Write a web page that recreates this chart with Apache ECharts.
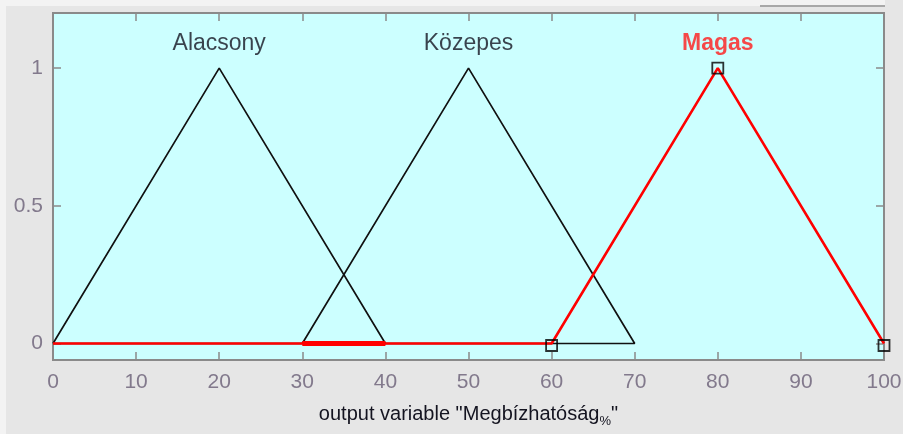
<!DOCTYPE html>
<html>
<head>
<meta charset="utf-8">
<script src="https://cdn.jsdelivr.net/npm/echarts@6/dist/echarts.min.js"></script>
<style>
  html, body { margin: 0; padding: 0; background: #f3f3f3; }
  #chart { width: 903px; height: 434px; }
</style>
</head>
<body>
<div id="chart"></div>
<script>
// Membership functions of the output variable (triangular, drawn as closed outlines)
const mfNames = ['Alacsony', 'Közepes', 'Magas'];
const alacsonyPts = [[0, 0], [20, 1], [40, 0], [0, 0]];
const kozepesPts = [[30, 0], [50, 1], [70, 0], [30, 0]];
const magasPts = [[0, 0], [60, 0], [80, 1], [100, 0]];
const magasOverlap = [[30, 0], [40, 0]];
const magasHandles = [[60, 0], [80, 1], [100, 0]];
const mfPeaks = [20, 50, 80];
const xTicks = [0, 10, 20, 30, 40, 50, 60, 70, 80, 90, 100];
const yTicks = [0, 0.5, 1];

const chart = echarts.init(document.getElementById('chart'), null, { renderer: 'canvas' });

const tickColor = '#82798c';
const frameColor = '#8a8a8a';
const textColor = '#141420';
const font = '"Liberation Sans", Arial, sans-serif';

const baseX = {
  type: 'value', min: 0, max: 100, interval: 10,
  axisLine: { show: true, onZero: false, lineStyle: { color: frameColor, width: 2 } },
  axisTick: { show: true, inside: true, length: 8, lineStyle: { color: frameColor, width: 1.5 } },
  splitLine: { show: false }
};
const baseY = {
  type: 'value', min: -0.06, max: 1.2,
  axisLine: { show: true, onZero: false, lineStyle: { color: frameColor, width: 2 } },
  axisTick: { show: true, inside: true, length: 8, lineStyle: { color: frameColor, width: 1.5 },
    customValues: yTicks },
  splitLine: { show: false }
};

chart.setOption({
  animation: false,
  backgroundColor: 'transparent',
  graphic: [
    { type: 'rect', shape: { x: 6, y: 6, width: 897, height: 428 }, style: { fill: '#e6e6e6' }, z: -10 },
    { type: 'rect', shape: { x: 885, y: 0, width: 18, height: 6 }, style: { fill: '#e6e6e6' }, z: -10 },
    { type: 'rect', shape: { x: 760, y: 5, width: 125, height: 2 }, style: { fill: '#a8a8a8' }, z: -10 }
  ],
  grid: {
    left: 53, right: 19, top: 13, bottom: 74,
    outerBoundsMode: 'none',
    containLabel: false,
    show: true, backgroundColor: '#ccffff', borderColor: frameColor, borderWidth: 2
  },
  xAxis: [
    Object.assign({}, baseX, {
      position: 'bottom',
      axisLabel: { show: true, color: tickColor, fontSize: 21, fontFamily: font, margin: 12,
        customValues: xTicks, formatter: v => String(v) },
      name: 'output variable "Megbízhatóság{sub|%}"',
      nameLocation: 'middle', nameGap: 41,
      nameTextStyle: {
        color: textColor, fontSize: 20, fontFamily: font,
        rich: { sub: { fontSize: 13, fontFamily: font, color: textColor, padding: [14, 0, 0, 0] } }
      }
    }),
    Object.assign({}, baseX, { position: 'top', axisLabel: { show: false } })
  ],
  yAxis: [
    Object.assign({}, baseY, {
      position: 'left',
      axisLabel: { show: true, color: tickColor, fontSize: 21, fontFamily: font, margin: 10,
        customValues: yTicks, formatter: v => String(v) }
    }),
    Object.assign({}, baseY, { position: 'right', axisLabel: { show: false } })
  ],
  series: [
    {
      type: 'line', name: mfNames[0], data: alacsonyPts, symbol: 'none',
      lineStyle: { color: '#111111', width: 1.7 }, z: 3
    },
    {
      type: 'line', name: mfNames[1], data: kozepesPts, symbol: 'none',
      lineStyle: { color: '#111111', width: 1.7 }, z: 3
    },
    {
      type: 'line', name: mfNames[2], data: magasPts, symbol: 'none',
      lineStyle: { color: '#ff0000', width: 2.6 }, z: 4
    },
    {
      type: 'line', name: 'overlap', data: magasOverlap, symbol: 'none',
      lineStyle: { color: '#ff0000', width: 5 }, z: 4
    },
    {
      type: 'scatter', name: 'handles',
      data: magasHandles.map(p => ({ value: p, symbolOffset: [0, p[1] === 0 ? 2 : 0] })),
      symbol: 'rect', symbolSize: 11,
      itemStyle: { color: 'transparent', borderColor: '#000000', borderWidth: 1.8 }, z: 5
    },
    {
      // MF names written above each peak
      type: 'scatter', name: 'labels',
      data: mfPeaks.map((x, i) => ({
        value: [x, 1.09],
        label: {
          show: true, position: 'inside', formatter: mfNames[i],
          color: i === 2 ? '#ff1a1a' : textColor,
          fontWeight: i === 2 ? 'bold' : 'normal',
          fontSize: 23, fontFamily: font
        }
      })),
      symbolSize: 0.01, itemStyle: { color: 'transparent' }, z: 6
    }
  ]
});
</script>
</body>
</html>
